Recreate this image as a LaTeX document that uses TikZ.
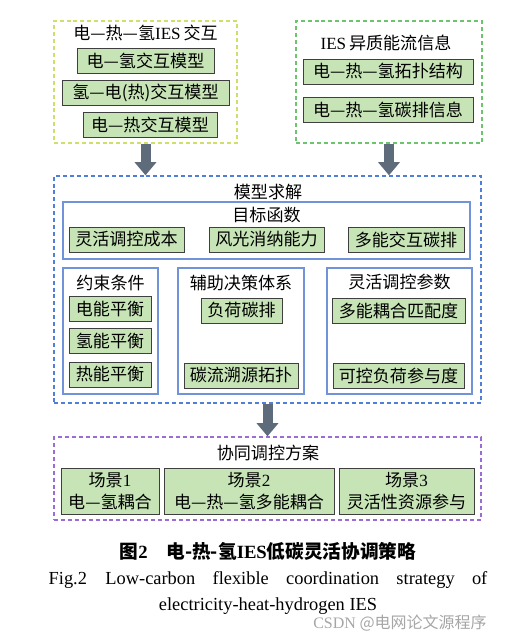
\documentclass[tikz,border=0pt]{standalone}
\usepackage{fontspec}
\setmainfont{Noto Sans CJK SC}
\newfontfamily\latin{Liberation Serif}
\usepackage{xcolor}
\usetikzlibrary{arrows.meta, positioning}

\definecolor{boxfill}{HTML}{C6E4B6}
\definecolor{boxline}{HTML}{3F3F3F}
\definecolor{iesline}{HTML}{CFE06A}
\definecolor{infoline}{HTML}{6CC46C}
\definecolor{modelline}{HTML}{4F7FD8}
\definecolor{subline}{HTML}{7193D9}
\definecolor{planline}{HTML}{9B6BD6}
\definecolor{arrowgray}{HTML}{5D6B7B}

\begin{document}
\begin{tikzpicture}[x=0.75pt, y=-0.75pt,
    every node/.style={font=\fontsize{12.8}{16}\selectfont, inner sep=0pt},
    greenbox/.style={rectangle, draw=boxline, line width=0.7pt, fill=boxfill, minimum height=18.75pt, align=center},
    dashbox/.style={rectangle, draw=#1, line width=1pt, dash pattern=on 3pt off 2.2pt},
    subbox/.style={rectangle, draw=subline, line width=1pt},
    title/.style={align=center},
    bigarrow/.style={draw=arrowgray, line width=7.5pt, -{Triangle[width=16pt, length=10pt]}}
  ]
\useasboundingbox (0,0) rectangle (517,635);

% IES interaction
\node[dashbox=iesline, minimum width=137.25pt, minimum height=91.5pt] (ies) at (145.5,82) {};
\node[title] (ies_t) at (145.5,33) {电—热—氢{\latin IES}\,交互};
\node[greenbox, minimum width=102.75pt] (eh) at (145.5,61) {电—氢交互模型};
\node[greenbox, minimum width=125.25pt] (he) at (145.5,92.5) {氢—电(热)交互模型};
\node[greenbox, minimum width=100.5pt] (et) at (150,124.5) {电—热交互模型};

% heterogeneous energy flow info
\node[dashbox=infoline, minimum width=139.5pt, minimum height=91.5pt] (info) at (389,82) {};
\node[title] (info_t) at (386,43) {{\latin IES}\,异质能流信息};
\node[greenbox, minimum width=127.5pt] (topo) at (388,71.5) {电—热—氢拓扑结构};
\node[greenbox, minimum width=127.5pt] (carb) at (388,109.5) {电—热—氢碳排信息};

% model solving
\node[dashbox=modelline, minimum width=320.25pt, minimum height=170.25pt] (model) at (267.5,289.5) {};
\node[title] (model_t) at (268,192) {模型求解};

\node[subbox, minimum width=305.25pt, minimum height=42.75pt] (obj) at (266.5,230.5) {};
\node[title] (obj_t) at (266.5,215) {目标函数};
\node[greenbox, minimum width=86.25pt] (cost) at (126.5,239.5) {灵活调控成本};
\node[greenbox, minimum width=86.25pt] (wind) at (266.5,239.5) {风光消纳能力};
\node[greenbox, minimum width=87pt] (multi) at (406,239.5) {多能交互碳排};

\node[subbox, minimum width=71.25pt, minimum height=94.5pt] (cons) at (110.5,331) {};
\node[title] (cons_t) at (110.5,283) {约束条件};
\node[greenbox, minimum width=61.5pt] (ebal) at (110,308.5) {电能平衡};
\node[greenbox, minimum width=61.5pt] (hbal) at (110,340.5) {氢能平衡};
\node[greenbox, minimum width=61.5pt] (tbal) at (110,374.5) {热能平衡};

\node[subbox, minimum width=94.5pt, minimum height=94.5pt] (aux) at (241,331) {};
\node[title] (aux_t) at (241,283) {辅助决策体系};
\node[greenbox, minimum width=60.75pt] (load) at (241.5,310.5) {负荷碳排};
\node[greenbox, minimum width=85.5pt] (trace) at (241,375.5) {碳流溯源拓扑};

\node[subbox, minimum width=108.75pt, minimum height=94.5pt] (para) at (399.5,331) {};
\node[title] (para_t) at (399.5,282) {灵活调控参数};
\node[greenbox, minimum width=99.75pt] (match) at (398.5,311) {多能耦合匹配度};
\node[greenbox, minimum width=98.25pt] (part) at (398.5,375.5) {可控负荷参与度};

% coordinated scheme
\node[dashbox=planline, minimum width=320.25pt, minimum height=62.25pt] (plan) at (267.5,478.5) {};
\node[title] (plan_t) at (268,453) {协同调控方案};
\node[greenbox, minimum width=73.5pt, minimum height=34.5pt] (sc1) at (110,491) {场景{\latin 1}\\电—氢耦合};
\node[greenbox, minimum width=127.5pt, minimum height=34.5pt] (sc2) at (249,491) {场景{\latin 2}\\电—热—氢多能耦合};
\node[greenbox, minimum width=101.25pt, minimum height=34.5pt] (sc3) at (406.5,491) {场景{\latin 3}\\灵活性资源参与};

% arrows
\draw[bigarrow] (ies.south) -- (ies.south |- model.north);
\draw[bigarrow] (info.south) -- (info.south |- model.north);
\draw[bigarrow] (model.south) -- (plan.north);

% caption
\node[font=\fontsize{14}{16}\selectfont\bfseries] (cap_zh) at (268,551) {图{\latin 2}\quad 电-热-氢{\latin IES}低碳灵活协调策略};
\node[font=\fontsize{13.8}{16}\selectfont\latin] (cap_en1) at (268,580) {\makebox[329pt][s]{Fig.2\quad Low-carbon flexible coordination strategy of}};
\node[font=\fontsize{13.8}{16}\selectfont\latin] (cap_en2) at (268,606) {electricity-heat-hydrogen IES};
\node[font=\fontsize{12}{14}\selectfont, text=black!35] (mark) at (400,623) {{\latin CSDN} @电网论文源程序};

\end{tikzpicture}
\end{document}
